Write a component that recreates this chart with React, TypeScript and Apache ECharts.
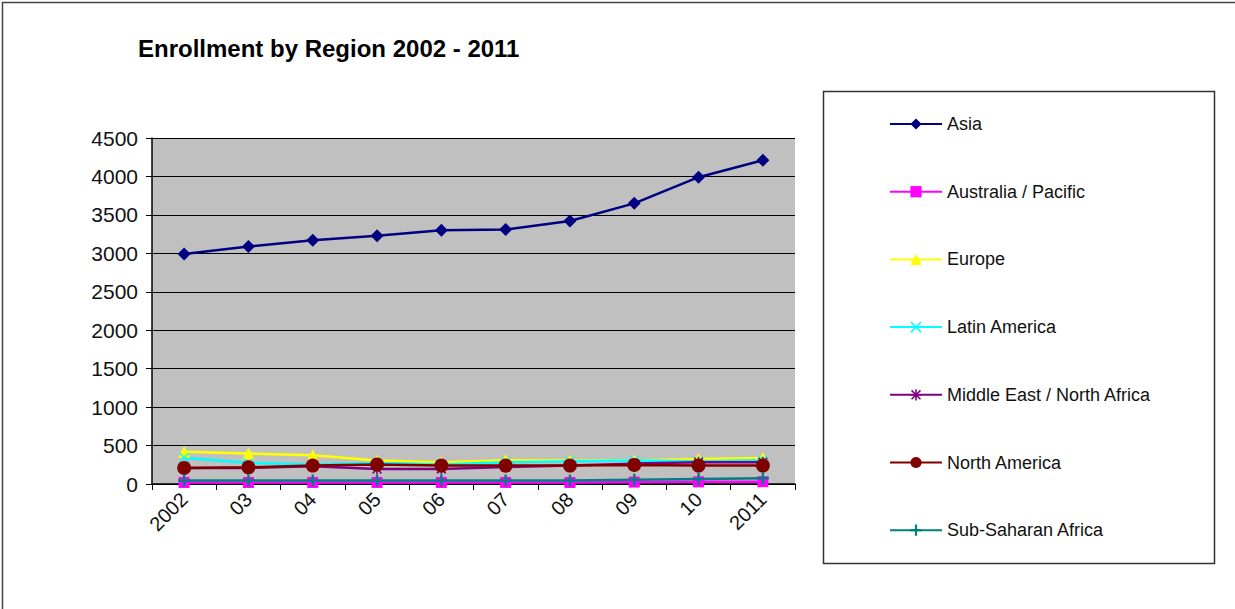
import React, { useEffect, useRef } from "react";
import * as echarts from "echarts";

const categories = ["2002", "03", "04", "05", "06", "07", "08", "09", "10", "2011"];
const yTicks = [0, 500, 1000, 1500, 2000, 2500, 3000, 3500, 4000, 4500];

const asia = [2990, 3090, 3170, 3230, 3300, 3310, 3420, 3650, 3990, 4210];
const australiaPacific = [20, 20, 20, 20, 20, 20, 20, 25, 28, 30];
const europe = [418, 396, 374, 305, 283, 309, 305, 305, 326, 339];
const latinAmerica = [340, 274, 252, 274, 252, 283, 296, 305, 296, 309];
const middleEast = [209, 209, 230, 196, 196, 222, 239, 265, 283, 283];
const northAmerica = [209, 217, 239, 252, 239, 239, 239, 248, 239, 239];
const subSaharan = [45, 45, 45, 45, 45, 45, 45, 55, 65, 75];

const PLUS = "path://M4,0H6V4H10V6H6V10H4V6H0V4H4Z";
const CROSS = "path://M1,0L5,4L9,0L10,1L6,5L10,9L9,10L5,6L1,10L0,9L4,5L0,1Z";
const STAR =
  "path://M4.3,0H5.7V4.3H10V5.7H5.7V10H4.3V5.7H0V4.3H4.3Z M1.5,0.5L5,4L8.5,0.5L9.5,1.5L6,5L9.5,8.5L8.5,9.5L5,6L1.5,9.5L0.5,8.5L4,5L0.5,1.5Z";

const seriesDefs = [
  { name: "Asia", data: asia, color: "#000080", symbol: "diamond", size: 13 },
  { name: "Australia / Pacific", data: australiaPacific, color: "#FF00FF", symbol: "rect", size: 11 },
  { name: "Europe", data: europe, color: "#FFFF00", symbol: "triangle", size: 12 },
  { name: "Latin America", data: latinAmerica, color: "#00FFFF", symbol: CROSS, size: 10 },
  { name: "Middle East / North Africa", data: middleEast, color: "#800080", symbol: STAR, size: 11 },
  { name: "North America", data: northAmerica, color: "#800000", symbol: "circle", size: 14 },
  { name: "Sub-Saharan Africa", data: subSaharan, color: "#008080", symbol: PLUS, size: 12 },
];

export default function App() {
  const ref = useRef<HTMLDivElement>(null);
  useEffect(() => {
    if (!ref.current) return;
    const chart = echarts.init(ref.current, null, { renderer: "svg" });
    const font = "Liberation Sans, Arial, sans-serif";
    chart.setOption({
      animation: false,
      backgroundColor: "#ffffff",
      title: {
        text: "Enrollment by Region 2002 - 2011",
        left: 133,
        top: 31,
        textStyle: { fontFamily: font, fontSize: 24, fontWeight: "bold", color: "#000" },
      },
      graphic: [
        {
          type: "rect",
          shape: { x: 2.5, y: 2.5, width: 1400, height: 800 },
          style: { fill: "none", stroke: "#444", lineWidth: 1.5 },
          silent: true,
          z: -1,
        },
        {
          type: "rect",
          shape: { x: 823.5, y: 91.5, width: 391, height: 472 },
          style: { fill: "#fff", stroke: "#333", lineWidth: 1.5 },
          silent: true,
          z: -1,
        },
      ],
      legend: {
        orient: "vertical",
        left: 889,
        top: 115,
        padding: 0,
        itemWidth: 52,
        itemHeight: 14,
        itemGap: 49.7,
        textStyle: { fontFamily: font, fontSize: 18, color: "#111", lineHeight: 14, padding: [0, 0, 0, 0] },
        data: seriesDefs.map((s) => s.name),
      },
      grid: { left: 152, right: 440, top: 138, bottom: 125, show: true, backgroundColor: "#C0C0C0", borderWidth: 0 },
      xAxis: {
        type: "category",
        data: categories,
        boundaryGap: true,
        axisLine: { lineStyle: { color: "#000", width: 1.5 } },
        axisTick: { show: true, alignWithLabel: false, length: 6, lineStyle: { color: "#000" } },
        axisLabel: { rotate: 45, fontFamily: font, fontSize: 20, color: "#111", margin: 12 },
      },
      yAxis: {
        type: "value",
        min: yTicks[0],
        max: yTicks[yTicks.length - 1],
        interval: 500,
        axisLine: { show: true, lineStyle: { color: "#000", width: 1.5 } },
        axisTick: { show: true, inside: false, length: 6, lineStyle: { color: "#000" } },
        axisLabel: { fontFamily: font, fontSize: 21, color: "#111", margin: 14, formatter: (v: number) => String(v) },
        splitLine: { show: true, lineStyle: { color: "#000", width: 1.2 } },
      },
      series: seriesDefs.map((s) => ({
        name: s.name,
        type: "line",
        data: s.data,
        symbol: s.symbol,
        symbolSize: s.size,
        showAllSymbol: true,
        color: s.color,
        itemStyle: { color: s.color },
        lineStyle: { color: s.color, width: 2.5 },
      })),
    });
    return () => chart.dispose();
  }, []);
  return (
    <div
      ref={ref}
      style={{ position: "fixed", left: 0, top: 0, width: 1235, height: 609 }}
    />
  );
}
